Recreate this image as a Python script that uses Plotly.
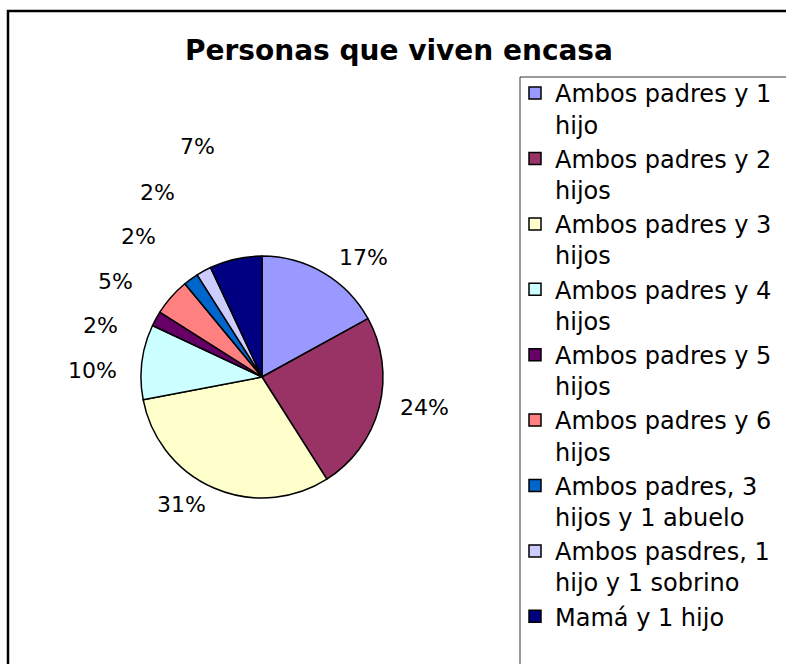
import plotly.graph_objects as go

W, H = 786, 664

categories = [
    "Ambos padres y 1<br>hijo",
    "Ambos padres y 2<br>hijos",
    "Ambos padres y 3<br>hijos",
    "Ambos padres y 4<br>hijos",
    "Ambos padres y 5<br>hijos",
    "Ambos padres y 6<br>hijos",
    "Ambos padres, 3<br>hijos y 1 abuelo",
    "Ambos pasdres, 1<br>hijo y 1 sobrino",
    "Mamá y 1 hijo",
]
values = [17, 24, 31, 10, 2, 5, 2, 2, 7]
colors = ["#9999FF", "#993366", "#FFFFCC", "#CCFFFF", "#660066",
          "#FF8080", "#0066CC", "#CCCCFF", "#000080"]

# pixel positions of percentage labels (layout only)
label_pos = [(363, 258), (424, 407), (181, 504), (92, 370), (100, 325),
             (115, 282), (138, 236), (157, 192), (197, 147)]

FONT = "DejaVu Sans"


def px(x):
    return x / W


def py(y):
    return 1 - y / H


# pie placement (pixels)
cx, cy, r = 262, 377, 121

fig = go.Figure()
fig.add_trace(go.Pie(
    labels=categories,
    values=values,
    sort=False,
    direction="clockwise",
    rotation=0,
    marker=dict(colors=colors, line=dict(color="black", width=1.5)),
    textinfo="none",
    hoverinfo="label+percent",
    domain=dict(x=[px(cx - r), px(cx + r)],
                y=[py(cy + r), py(cy - r)]),
    showlegend=True,
))

annotations = [
    dict(text="<b>Personas que viven encasa</b>", x=px(399), y=py(51),
         xref="paper", yref="paper", showarrow=False,
         font=dict(family=FONT, size=28, color="black"),
         xanchor="center", yanchor="middle"),
]
total = sum(values)
for v, (lx, ly) in zip(values, label_pos):
    annotations.append(dict(
        text=f"{round(100 * v / total)}%", x=px(lx), y=py(ly),
        xref="paper", yref="paper", showarrow=False,
        font=dict(family=FONT, size=22, color="black"),
        xanchor="center", yanchor="middle"))

shapes = [
    # outer chart border
    dict(type="rect", xref="paper", yref="paper",
         x0=px(8), x1=1.05, y0=-0.05, y1=py(11),
         line=dict(color="black", width=2.5), fillcolor="rgba(0,0,0,0)"),
    # legend border
    dict(type="rect", xref="paper", yref="paper",
         x0=px(520), x1=1.05, y0=-0.05, y1=py(77),
         line=dict(color="#333333", width=1), fillcolor="rgba(0,0,0,0)"),
]

fig.update_layout(
    width=W, height=H,
    margin=dict(l=0, r=0, t=0, b=0),
    paper_bgcolor="white",
    plot_bgcolor="white",
    showlegend=True,
    legend=dict(
        x=px(515), y=py(71), xanchor="left", yanchor="top",
        font=dict(family=FONT, size=24, color="black"),
        valign="top", borderwidth=0, bgcolor="rgba(0,0,0,0)",
        traceorder="normal",
    ),
    annotations=annotations,
    shapes=shapes,
)

fig.write_html(
    "out.html",
    config={"displayModeBar": False},
    post_script="document.body.style.margin='0';"
                "document.body.style.overflow='hidden';",
)
